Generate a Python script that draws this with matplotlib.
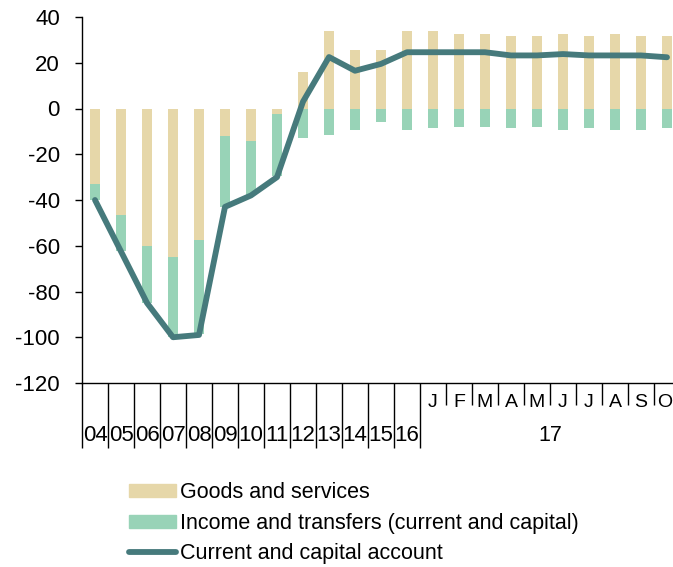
import matplotlib
matplotlib.use("Agg")
import matplotlib.pyplot as plt
from matplotlib.lines import Line2D
from matplotlib.patches import Patch
import numpy as np

plt.rcParams['font.family'] = ['Liberation Sans', 'DejaVu Sans']
plt.rcParams['axes.unicode_minus'] = False

years = ['04', '05', '06', '07', '08', '09', '10', '11', '12', '13', '14', '15', '16']
months = ['J', 'F', 'M', 'A', 'M', 'J', 'J', 'A', 'S', 'O']
month_year = '17'

goods = [-33, -46.5, -60, -65, -57.5, -12, -14, -2.3, 16, 33.7, 25.7, 25.7, 33.8,
         33.8, 32.4, 32.4, 31.6, 31.6, 32.4, 31.6, 32.4, 31.6, 31.6]
income = [-7, -16, -25, -35, -41, -31, -24, -27.4, -13, -11.8, -9.5, -5.8, -9.5,
          -8.7, -8, -8, -8.7, -8, -9.5, -8.7, -9.5, -9.5, -8.7]
balance = [-40, -62.5, -85, -100, -99, -43, -38, -30, 3, 22.5, 16.5, 19.5, 24.6,
           24.6, 24.6, 24.6, 23.2, 23.2, 23.8, 23.2, 23.2, 23.2, 22.4]

c_goods = '#E6D7A9'
c_income = '#98D3B7'
c_line = '#467A7C'

n = len(goods)
x = np.arange(n)
goods_a = np.array(goods)
income_a = np.array(income)
income_bottom = np.where(goods_a < 0, goods_a, 0)

fig = plt.figure(figsize=(6.73, 5.67), dpi=100)
ax = fig.add_axes([82 / 673, 184 / 567, 598 / 673, 366 / 567])

ax.bar(x, goods_a, width=0.39, color=c_goods, zorder=2)
ax.bar(x, income_a, bottom=income_bottom, width=0.39, color=c_income, zorder=2)
ax.plot(x, balance, color=c_line, lw=4.2, solid_capstyle='round',
        solid_joinstyle='round', zorder=3)

ax.set_xlim(-0.5, n - 0.5)
ax.set_ylim(-120, 40)
ax.set_yticks(np.arange(-120, 41, 20))
ax.tick_params(axis='y', direction='out', length=5, width=1, labelsize=16, pad=11)

for s in ['top', 'right']:
    ax.spines[s].set_visible(False)
for s in ['left', 'bottom']:
    ax.spines[s].set_linewidth(1)

# category separators: long for years, short between months
ny = len(years)
long_bounds = np.arange(-0.5, ny, 1.0)
short_bounds = np.arange(ny + 0.5, n - 0.5, 1.0)
ax.set_xticks(long_bounds)
ax.set_xticks(short_bounds, minor=True)
ax.tick_params(axis='x', which='major', direction='out', length=47, width=1,
               labelbottom=False)
ax.tick_params(axis='x', which='minor', direction='out', length=16, width=1,
               labelbottom=False)

for i, lab in enumerate(years):
    ax.annotate(lab, xy=(i, 0), xycoords=('data', 'axes fraction'),
                xytext=(0, -38), textcoords='offset points',
                ha='center', va='center', fontsize=16)
for j, lab in enumerate(months):
    # the last month sits at the figure's right edge; nudge it inside
    dx = -1.5 if j == len(months) - 1 else 0
    ax.annotate(lab, xy=(ny + j, 0), xycoords=('data', 'axes fraction'),
                xytext=(dx, -13.7), textcoords='offset points',
                ha='center', va='center', fontsize=14)
ax.annotate(month_year, xy=(ny + (len(months) - 1) / 2, 0),
            xycoords=('data', 'axes fraction'),
            xytext=(0, -37.5), textcoords='offset points',
            ha='center', va='center', fontsize=15.5)

handles = [Patch(color=c_goods), Patch(color=c_income),
           Line2D([], [], color=c_line, lw=4.2, solid_capstyle='round')]
labels = ['Goods and services', 'Income and transfers (current and capital)',
          'Current and capital account']
fig.legend(handles, labels, loc='upper left', bbox_to_anchor=(129 / 673, 1 - 482 / 567),
           frameon=False, fontsize=15.5, borderpad=0, borderaxespad=0,
           handlelength=2.2, handleheight=0.55, handletextpad=0.15, labelspacing=0.45)

fig.savefig('out.png', dpi=100)
